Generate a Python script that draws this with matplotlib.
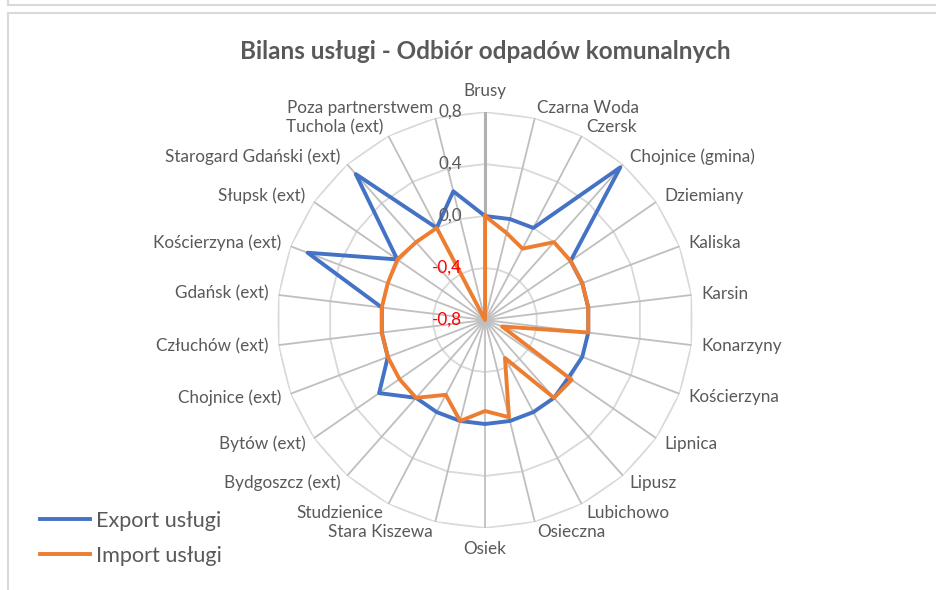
import numpy as np
import matplotlib.pyplot as plt
from matplotlib.lines import Line2D

plt.rcParams["font.family"] = ["Lato", "DejaVu Sans"]

# ── dane ──────────────────────────────────────────
categories = ["Brusy", "Czarna Woda", "Czersk", "Chojnice (gmina)", "Dziemiany",
              "Kaliska", "Karsin", "Konarzyny", "Kościerzyna", "Lipnica", "Lipusz",
              "Lubichowo", "Osieczna", "Osiek", "Stara Kiszewa", "Studzienice",
              "Bydgoszcz (ext)", "Bytów (ext)", "Chojnice (ext)", "Człuchów (ext)",
              "Gdańsk (ext)", "Kościerzyna (ext)", "Słupsk (ext)",
              "Starogard Gdański (ext)", "Tuchola (ext)", "Poza partnerstwem"]
export_vals = [0.0, 0.0, 0.0, 0.77, 0.0, 0.0, 0.0, 0.0, 0.0, -0.02, 0.0, 0.0, 0.0,
               0.0, 0.0, 0.0, 0.0, 0.19, 0.0, 0.0, 0.0, 0.66, 0.02, 0.70, 0.0, 0.22]
import_vals = [0.0, -0.11, -0.18, 0.0, 0.0, 0.0, 0.0, 0.0, -0.66, 0.01, 0.0, -0.47,
               -0.03, -0.1, 0.0, -0.15, 0.0, 0.0, 0.0, 0.0, 0.0, 0.0, 0.02, 0.0,
               0.0, -0.8]
ticks = [-0.8, -0.4, 0.0, 0.4, 0.8]
tick_labels = ["-0,8", "-0,4", "0,0", "0,4", "0,8"]

n = len(categories)
angles = np.arange(n) * 2 * np.pi / n
closed = np.append(angles, angles[0])

fig = plt.figure(figsize=(9.36, 5.9), dpi=100)
ax = fig.add_axes([0.2960, 0.1051, 0.4444, 0.705], projection="polar")
ax.set_theta_zero_location("N")
ax.set_theta_direction(-1)
ax.set_ylim(-0.8, 0.8)
ax.grid(False)
ax.set_xticks([])
ax.set_yticks([])
ax.spines["polar"].set_visible(False)
ax.patch.set_alpha(0)

# siatka wielokątna jak w Excelu
for t in ticks[1:]:
    ax.plot(closed, [t] * (n + 1), color="#d9d9d9", lw=1.3, zorder=1)
for i, a in enumerate(angles):
    ax.plot([a, a], [-0.8, 0.8], color="#bfbfbf" if i else "#b0b0b0",
            lw=1.3 if i else 2.2, zorder=1)

ax.plot(closed, export_vals + export_vals[:1], color="#4472C4", lw=2.8,
        label="Export usługi", zorder=3)
ax.plot(closed, import_vals + import_vals[:1], color="#ED7D31", lw=2.8,
        label="Import usługi", zorder=4)

# etykiety kategorii
for a, name in zip(angles, categories):
    s, c = np.sin(a), np.cos(a)
    if abs(s) < 0.01:
        ha, pad = "center", 21
    else:
        ha, pad = ("left" if s > 0 else "right"), 10
    ax.annotate(name, xy=(a, 0.8), xytext=(pad * s, pad * c),
                textcoords="offset pixels", ha=ha, va="center",
                fontsize=12.3, color="#595959", annotation_clip=False)

# etykiety osi wartości
for t, lab in zip(ticks, tick_labels):
    ax.annotate(lab, xy=(0, t), xytext=(-23, 0), textcoords="offset pixels",
                ha="right", va="center", fontsize=12.3,
                color="#FF0000" if t < 0 else "#595959", zorder=5)

fig.text(0.518, 0.913, "Bilans usługi - Odbiór odpadów komunalnych",
         ha="center", va="center", fontsize=17.5, fontweight="bold", color="#595959")

fig.legend(loc="lower left", bbox_to_anchor=(0.022, 0.008), frameon=False,
           fontsize=15.6, labelcolor="#595959", handlelength=2.3,
           handletextpad=0.3, labelspacing=0.7)

# ramki obszaru wykresu
W, H = 936, 590
frame = "#d9d9d9"
fig.add_artist(Line2D([8 / W, 1], [1 - 5 / H, 1 - 5 / H], color=frame, lw=1.5))
fig.add_artist(Line2D([8 / W, 8 / W], [1 - 5 / H, 1], color=frame, lw=1.5))
fig.add_artist(Line2D([8 / W, 1], [1 - 13 / H, 1 - 13 / H], color=frame, lw=1.5))
fig.add_artist(Line2D([8 / W, 8 / W], [0, 1 - 13 / H], color=frame, lw=1.5))

fig.savefig("out.png", dpi=100)
